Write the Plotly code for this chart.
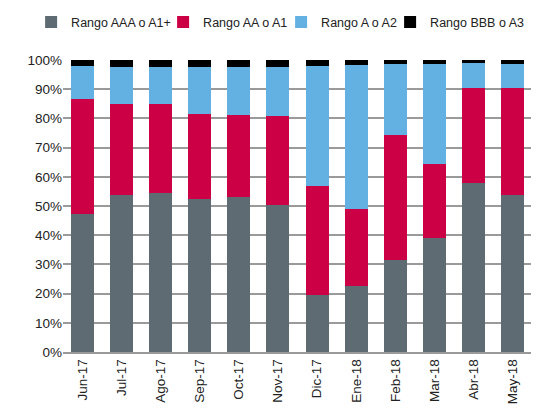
import plotly.graph_objects as go

categories = ["Jun-17", "Jul-17", "Ago-17", "Sep-17", "Oct-17", "Nov-17",
              "Dic-17", "Ene-18", "Feb-18", "Mar-18", "Abr-18", "May-18"]
aaa = [47.2, 53.8, 54.4, 52.3, 53.0, 50.4, 19.4, 22.7, 31.6, 39.0, 57.8, 53.7]
aa = [39.5, 31.3, 30.4, 29.1, 28.1, 30.4, 37.6, 26.3, 42.6, 25.4, 32.6, 36.6]
a = [11.1, 12.4, 12.7, 16.1, 16.4, 16.7, 40.9, 49.2, 24.4, 34.2, 8.5, 8.3]
bbb = [2.2, 2.5, 2.5, 2.5, 2.5, 2.5, 2.1, 1.8, 1.4, 1.4, 1.1, 1.4]

series = [
    ("Rango AAA o A1+", aaa, "#5f6b73", 87),
    ("Rango AA o A1", aa, "#cc0044", 73),
    ("Rango A o A2", a, "#63b0e3", 64),
    ("Rango BBB o A3", bbb, "#000000", 94),
]

fig = go.Figure()
for name, vals, color, lw in series:
    fig.add_trace(go.Bar(x=categories, y=[v / 100 for v in vals], name=name,
                         legendwidth=lw,
                         marker=dict(color=color, line=dict(width=0))))

fig.update_layout(
    barmode="stack",
    bargap=0.41,
    width=539, height=419,
    margin=dict(l=55, r=15, t=52, b=75, autoexpand=False),
    plot_bgcolor="white", paper_bgcolor="white",
    font=dict(family="Liberation Sans, Arial", size=13, color="#222222"),
    legend=dict(orientation="h", x=-0.068, xanchor="left",
                y=1.18, yanchor="top",
                font=dict(family="Liberation Sans, Arial", size=12.5),
                traceorder="normal", itemwidth=30, entrywidthmode="pixels"),
    showlegend=True,
)
fig.update_yaxes(range=[0, 1.0], tickformat=".0%", dtick=0.1,
                 showgrid=True, gridcolor="#9a9a9a", gridwidth=1.5,
                 zeroline=False, showline=False, ticks="", ticklen=0,
                 tickfont=dict(size=13.5))
fig.update_xaxes(tickangle=-90, showline=True, linecolor="#9a9a9a", linewidth=1.5,
                 ticks="", tickfont=dict(size=13.5))

fig.write_html("out.html")
